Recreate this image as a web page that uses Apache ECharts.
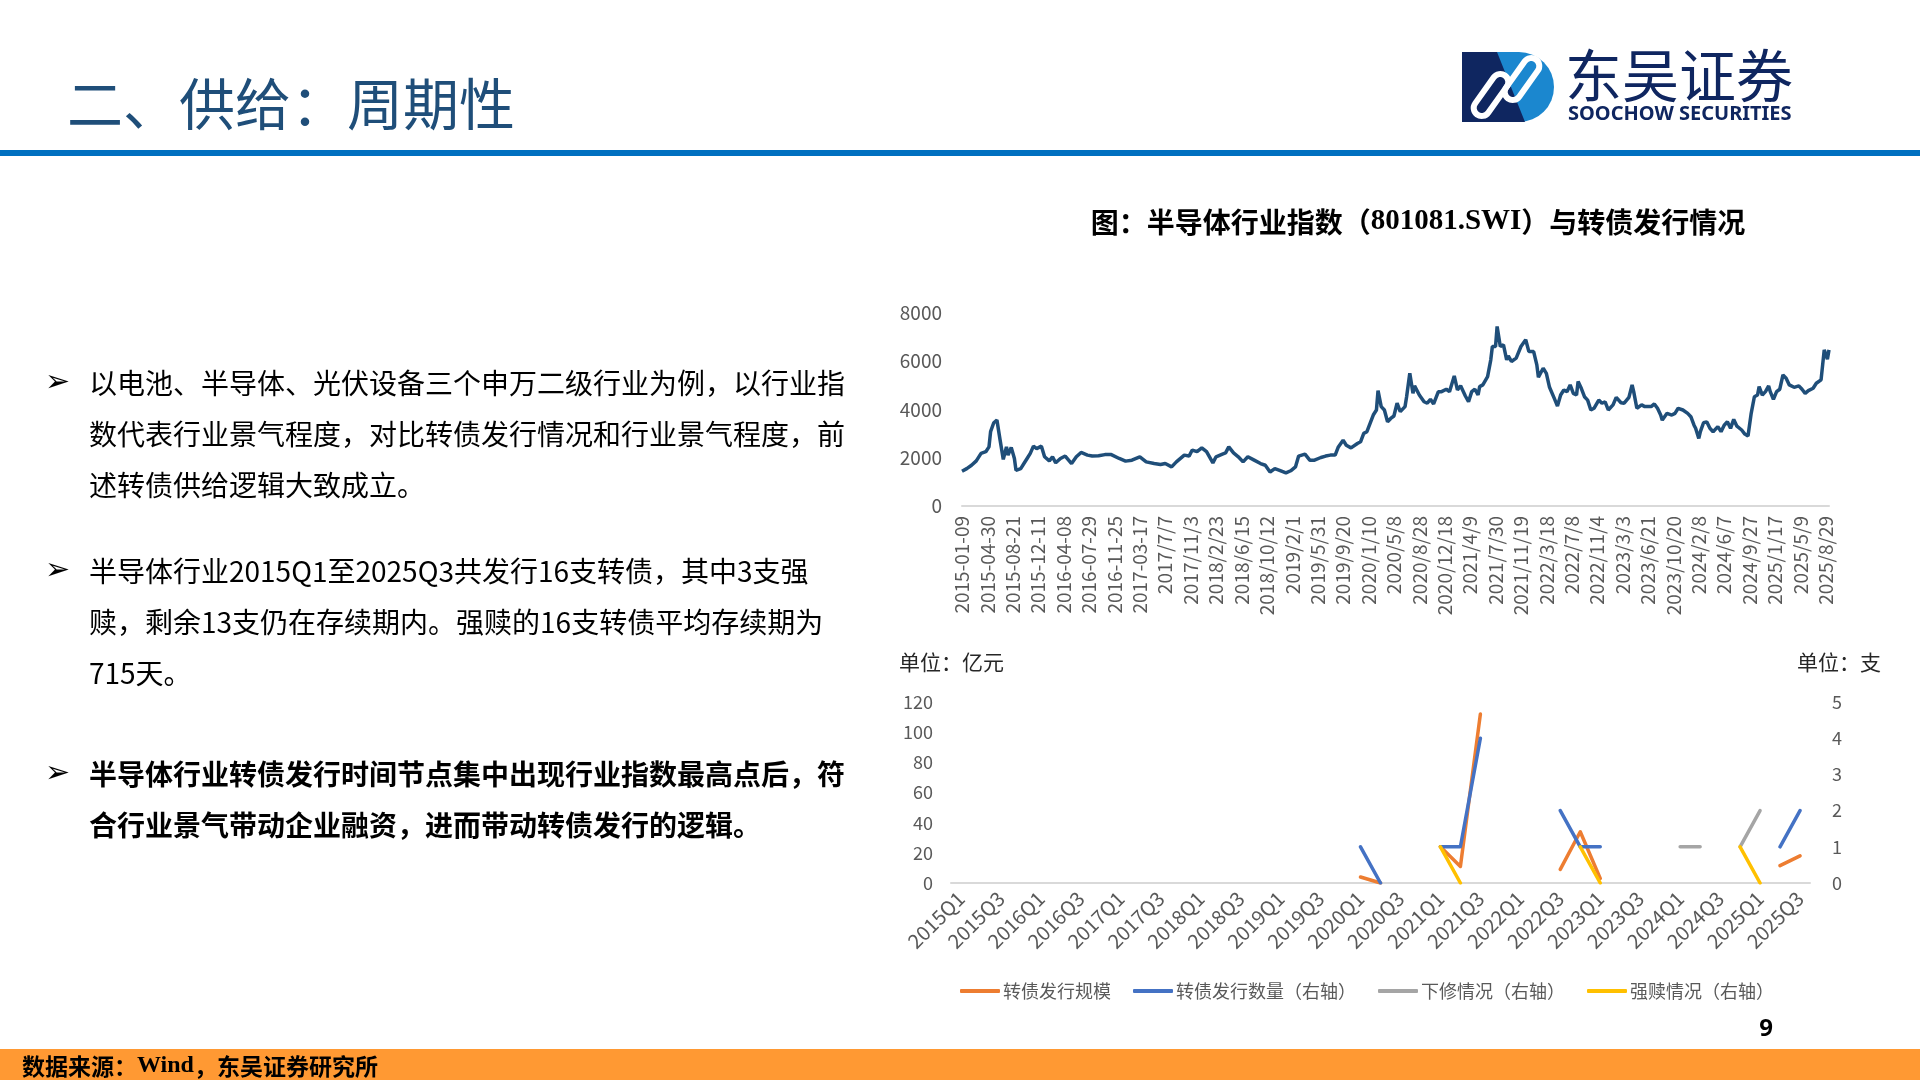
<!DOCTYPE html>
<html>
<head>
<meta charset="utf-8">
<script src="https://cdn.jsdelivr.net/npm/echarts@6/dist/echarts.min.js"></script>
<style>
html,body{margin:0;padding:0;background:#fff;}
#main{width:1920px;height:1080px;}
</style>
</head>
<body>
<div id="main"></div>
<script>
// ---- Top chart: semiconductor index (801081.SWI), weekly position index & value ----
const indexWeeks = [0,3,6,9,12,15,17,18,20,22,24,26,28,29,31,33,34,37,39,41,43,45,47,50,52,55,57,59,62,65,69,72,75,79,82,86,90,94,99,103,107,112,116,121,125,128,132,135,140,143,145,148,151,154,158,160,164,166,168,171,174,177,180,
184,188,191,194,197,200,204,207,210,212,216,219,222,226,229,232,235,237,240,242,245,249,251,253,255,259,261,262,264,266,268,270,272,274,276,279,280,282,284,285,288,291,293,295,297,300,302,305,307,310,312,314,317,319,321,323,325,326,328,331,333,334,336,337,339,341,343,344,346,349,352,355,357,360,362,
363,366,368,370,373,375,377,379,381,383,385,387,388,390,392,394,396,398,401,403,405,407,410,412,415,417,420,422,423,425,428,430,434,436,438,440,441,444,447,449,451,454,457,459,461,462,464,465,467,469,471,473,476,478,480,482,484,486,488,491,493,495,497,499,501,502,504,506,508,509,511,513,515,517,519,521,524,527,529,531,533,536,538,541,542,543,545,546];
const indexValues = [1440,1550,1690,1870,2180,2250,2450,3080,3450,3560,2730,1930,2450,2110,2430,1970,1480,1550,1760,1970,2180,2480,2380,2480,2040,1870,2040,1790,1970,2070,1760,2040,2220,2110,2070,2080,2130,2130,1970,1860,1900,2040,1830,1760,1720,1760,1620,1830,2110,2070,2320,2250,2410,2250,1790,2040,2150,2200,2450,2200,2040,1830,2040,
1900,1760,1690,1410,1550,1480,1370,1460,1620,2070,2150,1900,1900,2010,2070,2110,2110,2450,2730,2520,2410,2590,2660,3010,3080,3770,3980,4780,4120,3980,3490,3630,3730,4260,3910,4120,4530,5500,4670,4980,4600,4320,4260,4420,4230,4740,4740,4840,4740,5390,4810,4980,4560,4320,4740,4840,4600,4950,5020,5360,6060,6610,6610,7440,6610,6680,6060,6220,5990,6130,6610,6890,6400,6400,5850,
5340,5710,5500,4920,4460,4140,4600,4810,4740,5020,4670,4600,5160,4880,4530,4390,3980,4050,4390,4260,4320,3980,4190,4500,4280,4260,4500,5020,4740,4050,4190,4120,4120,4230,4050,3770,3560,3840,3770,3840,4050,3980,3840,3700,3350,3220,2800,3080,3450,3490,3220,3080,3290,3080,3350,3490,3220,3590,3310,3150,2980,2900,3840,4530,4600,4950,4600,4740,4980,4740,4420,4740,4840,5430,5300,5020,4920,4980,4840,4670,4780,4880,5090,5230,5850,6470,6090,6470];
const dateTickLabels = ['2015-01-09','2015-04-30','2015-08-21','2015-12-11','2016-04-08','2016-07-29','2016-11-25','2017-03-17','2017/7/7','2017/11/3','2018/2/23','2018/6/15','2018/10/12','2019/2/1','2019/5/31','2019/9/20','2020/1/10','2020/5/8','2020/8/28','2020/12/18','2021/4/9','2021/7/30','2021/11/19','2022/3/18','2022/7/8','2022/11/4','2023/3/3','2023/6/21','2023/10/20','2024/2/8','2024/6/7','2024/9/27','2025/1/17','2025/5/9','2025/8/29'];

// ---- Bottom chart: quarterly convertible-bond issuance ----
const quarters = ['2015Q1','2015Q2','2015Q3','2015Q4','2016Q1','2016Q2','2016Q3','2016Q4','2017Q1','2017Q2','2017Q3','2017Q4','2018Q1','2018Q2','2018Q3','2018Q4','2019Q1','2019Q2','2019Q3','2019Q4','2020Q1','2020Q2','2020Q3','2020Q4','2021Q1','2021Q2','2021Q3','2021Q4','2022Q1','2022Q2','2022Q3','2022Q4','2023Q1','2023Q2','2023Q3','2023Q4','2024Q1','2024Q2','2024Q3','2024Q4','2025Q1','2025Q2','2025Q3'];
const _ = null;
const issueSize   = [_,_,_,_,_,_,_,_,_,_,_,_,_,_,_,_,_,_,_,_, 4,0,_,_, 24,11,112,_, _,_,9,34, 3,_,_,_, _,_,_,_, _,11.5,18];
const issueCount  = [_,_,_,_,_,_,_,_,_,_,_,_,_,_,_,_,_,_,_,_, 1,0,_,_, 1,1,4,_, _,_,2,1, 1,_,_,_, _,_,_,_, _,1,2];
const downRevise  = [_,_,_,_,_,_,_,_,_,_,_,_,_,_,_,_,_,_,_,_, _,_,_,_, _,_,_,_, _,_,_,_, _,_,_,_, 1,1,_,1, 2,_,_];
const forcedCall  = [_,_,_,_,_,_,_,_,_,_,_,_,_,_,_,_,_,_,_,_, _,_,_,_, 1,0,_,_, _,_,_,1, 0,_,_,_, _,_,_,1, 0,_,_];
const seriesNames = ['转债发行规模','转债发行数量（右轴）','下修情况（右轴）','强赎情况（右轴）'];

const bullets = [
  {lines:['以电池、半导体、光伏设备三个申万二级行业为例，以行业指','数代表行业景气程度，对比转债发行情况和行业景气程度，前','述转债供给逻辑大致成立。'], y:383, bold:false},
  {lines:['半导体行业2015Q1至2025Q3共发行16支转债，其中3支强','赎，剩余13支仍在存续期内。强赎的16支转债平均存续期为','715天。'], y:571, bold:false},
  {lines:['半导体行业转债发行时间节点集中出现行业指数最高点后，符','合行业景气带动企业融资，进而带动转债发行的逻辑。'], y:774, bold:true}
];

const CJK = "'Microsoft YaHei','Noto Sans CJK SC',sans-serif";
const gray = '#595959';

function txt(x, y, text, font, fill, align, extra){
  const st = Object.assign({text:text, font:font, fill:fill||'#000', align:align||'left', verticalAlign:'middle'}, extra||{});
  return {type:'text', x:x, y:y, style:st};
}

const graphics = [];
// header
graphics.push(txt(67, 104, '二、供给：周期性', "56px 'Noto Sans CJK SC'", '#1F4E79'));
graphics.push({type:'rect', shape:{x:0,y:150,width:1920,height:6}, style:{fill:'#0070C0'}});
// logo mark
graphics.push({type:'rect', shape:{x:1488,y:52,width:66,height:70,r:[0,35,35,0]}, style:{fill:'#1B87CF'}});
graphics.push({type:'polygon', shape:{points:[[1462,52],[1497,52],[1525,122],[1462,122]]}, style:{fill:'#0F2660'}});
graphics.push({type:'rect', x:1491, y:95, rotation:-0.62, shape:{x:-8,y:-24,width:16,height:48,r:8}, style:{stroke:'#fff', lineWidth:6, fill:null}});
graphics.push({type:'rect', x:1522, y:79, rotation:-0.62, shape:{x:-8,y:-24,width:16,height:48,r:8}, style:{stroke:'#fff', lineWidth:6, fill:null}});
graphics.push(txt(1565, 75, '东吴证券', "57px 'Noto Sans CJK SC'", '#0F2660'));
graphics.push(txt(1568, 114, 'SOOCHOW SECURITIES', "bold 20px 'Noto Sans'", '#0F2660'));
// chart title
graphics.push(txt(1418, 222, '{a|图：半导体行业指数（}{b|801081.SWI}{a|）与转债发行情况}', '', '#000', 'center', {
  rich:{a:{fontSize:28,fontWeight:'bold',fontFamily:"'Noto Sans CJK SC'",fill:'#000'}, b:{fontSize:29,fontWeight:'bold',fontFamily:"'Liberation Serif'",fill:'#000'}}
}));
// bullets
bullets.forEach(b=>{
  graphics.push(txt(45, b.y, '➢', "30px 'DejaVu Sans'", '#000'));
  b.lines.forEach((ln,i)=>{
    graphics.push(txt(89, b.y + i*51.2, ln, (b.bold?'bold ':'')+"28px 'Noto Sans CJK SC'", '#000'));
  });
});
// units
graphics.push(txt(899, 662, '单位：亿元', "21px 'Noto Sans CJK SC'", '#262626'));
graphics.push(txt(1797, 662, '单位：支', "21px 'Noto Sans CJK SC'", '#262626'));
// page number & footer
graphics.push(txt(1766, 1029, '9', "bold 24px 'Noto Sans'", '#000', 'center'));
graphics.push({type:'rect', shape:{x:0,y:1049,width:1920,height:31}, style:{fill:'#FF9933'}});
graphics.push(txt(22, 1066, '{a|数据来源：}{b|Wind}{a|，东吴证券研究所}', '', '#000', 'left', {
  rich:{a:{fontSize:23,fontWeight:'bold',fontFamily:"'Noto Sans CJK SC'",fill:'#000'}, b:{fontSize:24,fontWeight:'bold',fontFamily:"'Liberation Serif'",fill:'#000'}}
}));

const chart = echarts.init(document.getElementById('main'), null, {renderer:'canvas'});
const lineStyleBase = {width:3.5, cap:'round', join:'round'};
chart.setOption({
  animation:false,
  backgroundColor:'#fff',
  graphic: graphics,
  grid:[
    {left:962, width:867, top:313, height:193, containLabel:false},
    {left:951, width:859, top:702, height:181, containLabel:false}
  ],
  legend:{
    data:seriesNames, left:955, top:977, itemWidth:40, itemHeight:4, itemGap:22, icon:'roundRect',
    textStyle:{fontSize:18, color:gray, fontFamily:CJK, padding:[0,0,0,-2]}
  },
  xAxis:[
    {type:'value', gridIndex:0, min:0, max:546, interval:16,
     axisLine:{show:true, lineStyle:{color:'#D9D9D9', width:2}}, axisTick:{show:false}, splitLine:{show:false},
     axisLabel:{rotate:90, margin:10, fontSize:19, color:gray, fontFamily:CJK, showMaxLabel:false,
       formatter:function(v){ return (v % 16 === 0 && dateTickLabels[v/16]) ? dateTickLabels[v/16] : ''; }}},
    {type:'category', gridIndex:1, data:quarters, boundaryGap:true,
     axisLine:{show:true, lineStyle:{color:'#D9D9D9', width:2}}, axisTick:{show:false},
     axisLabel:{interval:1, rotate:45, margin:12, fontSize:20, color:gray, fontFamily:CJK}}
  ],
  yAxis:[
    {type:'value', gridIndex:0, min:0, max:8000, interval:2000, axisLine:{show:false}, axisTick:{show:false}, splitLine:{show:false},
     axisLabel:{fontSize:19, color:gray, margin:20, fontFamily:CJK, formatter:function(v){return String(v);}}},
    {type:'value', gridIndex:1, min:0, max:120, interval:20, axisLine:{show:false}, axisTick:{show:false}, splitLine:{show:false},
     axisLabel:{fontSize:18, color:gray, margin:18, fontFamily:CJK}},
    {type:'value', gridIndex:1, position:'right', min:0, max:5, interval:1, axisLine:{show:false}, axisTick:{show:false}, splitLine:{show:false},
     axisLabel:{fontSize:18, color:gray, margin:22, fontFamily:CJK}}
  ],
  series:[
    {name:'半导体行业指数', type:'line', xAxisIndex:0, yAxisIndex:0, showSymbol:false,
     data:indexWeeks.map((w,i)=>[w, indexValues[i]]),
     lineStyle:{color:'#1F4E79', width:3.5}, itemStyle:{color:'#1F4E79'}},
    {name:seriesNames[0], type:'line', xAxisIndex:1, yAxisIndex:1, showSymbol:false, data:issueSize,
     lineStyle:Object.assign({color:'#ED7D31'}, lineStyleBase), itemStyle:{color:'#ED7D31'}},
    {name:seriesNames[1], type:'line', xAxisIndex:1, yAxisIndex:2, showSymbol:false, data:issueCount,
     lineStyle:Object.assign({color:'#4472C4'}, lineStyleBase), itemStyle:{color:'#4472C4'}},
    {name:seriesNames[2], type:'line', xAxisIndex:1, yAxisIndex:2, showSymbol:false, data:downRevise,
     lineStyle:Object.assign({color:'#A5A5A5'}, lineStyleBase), itemStyle:{color:'#A5A5A5'}},
    {name:seriesNames[3], type:'line', xAxisIndex:1, yAxisIndex:2, showSymbol:false, data:forcedCall,
     lineStyle:Object.assign({color:'#FFC000'}, lineStyleBase), itemStyle:{color:'#FFC000'}}
  ]
});
</script>
</body>
</html>
